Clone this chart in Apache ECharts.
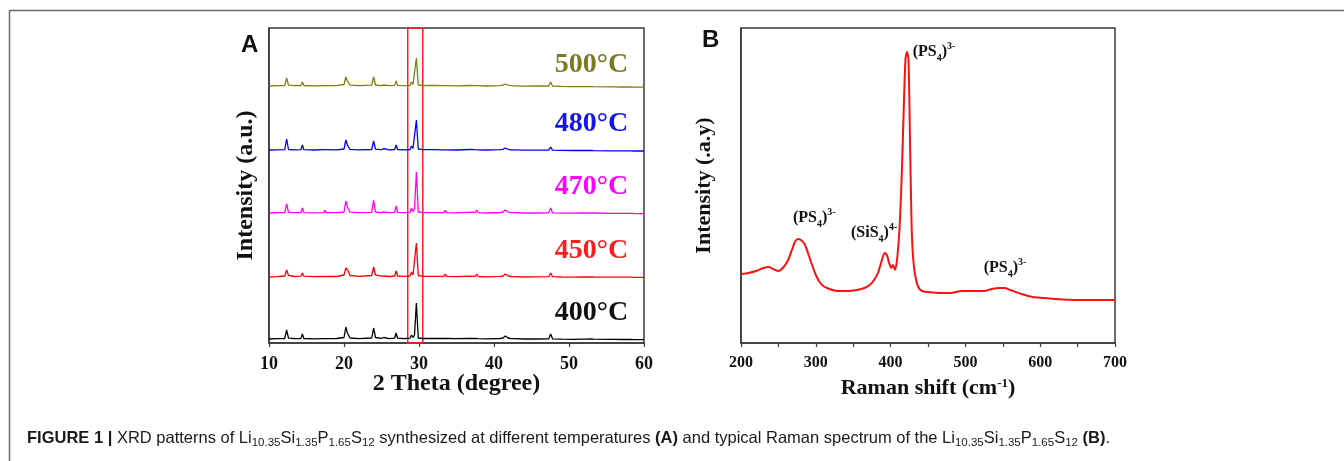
<!DOCTYPE html>
<html>
<head>
<meta charset="utf-8">
<script src="https://cdn.jsdelivr.net/npm/echarts@6/dist/echarts.min.js"></script>
<style>
  html, body { margin: 0; padding: 0; background: #fff; }
  #chart { width: 1344px; height: 461px; }
</style>
</head>
<body>
<div id="chart"></div>
<script>
// ---- Panel A: XRD patterns (2θ in degrees, intensity above each trace's own baseline, a.u.) ----
const THETA = [10.0, 11.0, 12.1, 12.35, 12.6, 13.5, 14.25, 14.45, 14.65, 16.0, 17.3, 17.45, 17.6, 19.0, 20.0, 20.25,
  20.45, 20.55, 20.8, 22.0, 23.7, 23.95, 24.2, 25.0, 25.3, 26.0, 26.75, 26.95, 27.15, 28.0, 28.8, 29.0, 29.2, 29.4,
  29.65, 29.9, 30.5, 31.5, 31.7, 31.9, 33.3, 33.5, 33.7, 35.0, 36.8, 37.5, 37.7, 37.9, 39.0, 40.8, 41.0, 41.2, 41.5,
  41.7, 41.9, 42.3, 42.5, 42.7, 44.0, 45.5, 47.3, 47.55, 47.8, 49.0, 50.5, 51.8, 52.0, 52.2, 52.9, 53.1, 53.3, 55.4,
  55.6, 55.8, 57.1, 57.3, 57.5, 58.2, 58.45, 58.7, 60.0];

const XRD_400 = [0, 0.3, 0.5, 9, 0.8, 0.3, 0.5, 5, 0.5, 0.2, 0.4, 2, 0.4, 0.5, 1.5, 12, 6, 5, 1, 0.4, 1, 11, 1.5, 0.6,
  1.5, 0.4, 0.8, 6, 0.8, 0.4, 0.8, 4, 1.5, 4, 36, 1, 0.5, 0.5, 2, 0.5, 0.5, 2.5, 0.5, 0.3, 0.6, 0.5, 2.5, 0.4, 0.2,
  0.5, 2, 1, 3, 5, 1, 0.4, 1.2, 0.3, 0, 0, 0.2, 5, 0.2, -0.2, -0.3, -0.2, 1.2, -0.2, 0, 1.2, -0.2, -0.4, 0.6, -0.4,
  -0.5, 0.6, -0.5, -0.5, 0.8, -0.6, -0.6];
const XRD_450 = [0, 0.4, 1, 7, 1.5, 0.5, 0.8, 4, 0.8, 0.3, 0.5, 2, 0.5, 0.5, 2, 9, 7, 6, 1.5, 0.6, 1.5, 10, 2, 0.8,
  1, 0.5, 1, 6, 1, 0.6, 1, 5, 2, 4, 34, 1.5, 0.6, 0.6, 2.5, 0.6, 0.6, 3, 0.6, 0.3, 0.8, 0.6, 3, 0.5, 0.2, 0.6, 2, 1,
  3, 4, 1, 0.5, 1.2, 0.4, 0, 0.2, 0.3, 4, 0.3, 0, -0.1, 0, 1.5, 0, 0.2, 1.5, 0, -0.2, 1, -0.2, -0.2, 1, -0.2, -0.2,
  1.2, -0.3, -0.4];
const XRD_470 = [0, 0.3, 0.4, 9, 0.6, 0.3, 0.4, 5, 0.4, 0.2, 0.3, 3, 0.3, 0.3, 1, 12, 6, 5, 0.8, 0.3, 0.6, 13, 1, 0.4,
  1, 0.3, 0.6, 7, 0.6, 0.3, 0.6, 5, 1.5, 4, 41, 1, 0.4, 0.4, 2, 0.4, 0.4, 2.5, 0.4, 0.2, 0.8, 0.5, 3, 0.4, 0, 0.5, 2,
  1, 3, 5, 0.8, 0.4, 1.2, 0.3, 0, 0, 0.2, 5, 0.2, -0.2, -0.2, 0, 1.5, 0, 0, 1.5, 0, -0.3, 0.8, -0.3, -0.4, 0.8, -0.4,
  -0.4, 1, -0.5, -0.6];
const XRD_480 = [0, 0.2, 0.3, 11, 0.5, 0.2, 0.3, 5, 0.3, 0, 0.3, 1.5, 0.3, 0.2, 1, 10, 5, 4, 0.6, 0.2, 0.5, 9, 0.8,
  0.3, 1.5, 0.2, 0.5, 5, 0.5, 0.2, 0.5, 4, 1.5, 3, 30, 1, 0.3, 0.3, 2, 0.3, 0.2, 2, 0.2, 0, 0.5, 0.3, 2, 0.2, 0, 0.3,
  1.5, 0.6, 2, 3, 0.6, 0.2, 1, 0.2, -0.2, -0.2, -0.2, 3, -0.2, -0.4, -0.5, -0.5, 0.5, -0.5, -0.5, 0.5, -0.6, -0.8, 0,
  -0.8, -0.9, 0, -0.9, -0.9, 0, -1, -1];
const XRD_500 = [0, 0.3, 0.5, 8, 0.8, 0.3, 0.5, 4, 0.5, 0.2, 0.4, 1.5, 0.4, 0.3, 1.5, 9, 5, 4, 0.8, 0.3, 0.8, 9, 1,
  0.4, 1, 0.3, 0.6, 5, 0.6, 0.3, 0.6, 4, 1.5, 3, 28, 1, 0.4, 0.5, 2, 0.5, 0.4, 2, 0.4, 0.2, 0.5, 0.4, 2, 0.3, 0, 0.4,
  1.5, 0.8, 2, 4, 0.8, 0.3, 1, 0.2, -0.2, 0, 0, 4, 0, -0.4, -0.6, -0.6, 0.5, -0.6, -0.6, 0.5, -0.7, -0.9, 0, -0.9, -1,
  0, -1, -1, 0.2, -1.1, -1.2];

const TEMP_LABELS = ['400°C', '450°C', '470°C', '480°C', '500°C'];
const XRD_SERIES = [XRD_400, XRD_450, XRD_470, XRD_480, XRD_500];
const XRD_OFFSETS = [4, 66, 130, 193, 257];      // vertical stacking of the patterns
const XRD_TICKS = [10, 20, 30, 40, 50, 60];
const MAIN_PEAK_WINDOW = [28.5, 30.5];           // highlighted 2θ range around the strongest reflection

// ---- Panel B: Raman spectrum (shift in cm^-1, intensity a.u.) ----
const RAMAN_SHIFT = [200, 210, 220, 230, 237, 243, 250, 257, 263, 268, 272, 276, 280, 285, 290, 295, 300, 305, 310,
  318, 330, 343, 355, 365, 372, 378, 383, 388, 392, 395, 398, 401, 403, 406, 409, 412, 415, 418, 420, 422, 424, 426,
  428, 430, 433, 437, 442, 450, 467, 480, 495, 510, 525, 535, 545, 552, 560, 575, 590, 605, 620, 650, 680, 700];
const RAMAN_INT = [69, 70, 72, 75, 76, 74, 72, 76, 83, 93, 101, 104, 103, 99, 89, 78, 68, 61, 57, 54, 52, 52, 53, 55,
  58, 63, 70, 82, 90, 88, 80, 75, 78, 73, 86, 115, 170, 245, 285, 291, 282, 200, 120, 86, 67, 56, 52, 51, 50, 50, 52,
  52, 52, 54, 55, 55, 53, 49, 46, 45, 44, 43, 43, 43];
const RAMAN_TICKS = [200, 300, 400, 500, 600, 700];
// band assignments: [ion, subscript, charge]
const RAMAN_BANDS = [['PS', '4', '3-'], ['SiS', '4', '4-'], ['PS', '4', '3-'], ['PS', '4', '3-']];

const COLORS = ['#000000', '#ff0000', '#ff00ff', '#0000ff', '#7f7f10'];
const LABEL_COLORS = ['#111111', '#ff1c1c', '#ff00ff', '#1414f0', '#7b7b22'];

const SERIF = 'Liberation Serif';
const SANS = 'Liberation Sans';
const AXIS_COLOR = '#3a3a3a';

const chart = echarts.init(document.getElementById('chart'), null, { renderer: 'canvas' });

function xAxisBase(gridIndex, ticks, name, opts) {
  return {
    type: 'value', gridIndex, min: ticks[0], max: ticks[ticks.length - 1], interval: ticks[1] - ticks[0],
    axisLine: { show: true, onZero: false, lineStyle: { color: AXIS_COLOR, width: 1.5 } },
    axisTick: { show: true, inside: false, length: 4, lineStyle: { color: AXIS_COLOR, width: 1.2 } },
    axisLabel: { fontFamily: SERIF, fontWeight: 'bold', fontSize: opts.tickSize, color: '#111', margin: 12 },
    splitLine: { show: false },
    name, nameLocation: 'middle', nameGap: opts.nameGap, nameMoveOverlap: false,
    nameTextStyle: { fontFamily: SERIF, fontWeight: 'bold', fontSize: opts.nameSize, color: '#111', rich: opts.rich }
  };
}
function yAxisBase(gridIndex, name, gap, size) {
  return {
    type: 'value', gridIndex, min: 0, max: 315,
    axisLine: { show: true, lineStyle: { color: AXIS_COLOR, width: 1.5 } },
    axisTick: { show: false }, axisLabel: { show: false }, splitLine: { show: false },
    name, nameLocation: 'middle', nameGap: gap, nameRotate: 90, nameMoveOverlap: false,
    nameTextStyle: { fontFamily: SERIF, fontWeight: 'bold', fontSize: size, color: '#111' }
  };
}

const xA = xAxisBase(0, XRD_TICKS, '2 Theta (degree)', { tickSize: 18, nameSize: 24, nameGap: 29 });
const xB = xAxisBase(1, RAMAN_TICKS, 'Raman shift (cm{s|-1})', {
  tickSize: 16, nameSize: 22, nameGap: 34,
  rich: { s: { fontFamily: SERIF, fontWeight: 'bold', fontSize: 13, color: '#111', verticalAlign: 'top', lineHeight: 12 } }
});
xB.minorTick = { show: true, splitNumber: 2, length: 4, lineStyle: { color: AXIS_COLOR, width: 1.2 } };

// XRD traces, each lifted by its stacking offset, labelled with its synthesis temperature
const xrdSeries = XRD_SERIES.map((vals, k) => ({
  type: 'line', xAxisIndex: 0, yAxisIndex: 0, name: TEMP_LABELS[k],
  symbol: 'none', silent: true, animation: false,
  lineStyle: { color: COLORS[k], width: 1.3 },
  data: THETA.map((t, i) => [t, vals[i] + XRD_OFFSETS[k]]),
  markPoint: {
    symbolSize: 0, silent: true, animation: false,
    data: [{ coord: [57.9, XRD_OFFSETS[k] + (k === 4 ? 21 : 26)] }],
    label: {
      show: true, position: [0, 0], align: 'right', verticalAlign: 'middle',
      formatter: TEMP_LABELS[k],
      fontFamily: SERIF, fontWeight: 'bold', fontSize: 28, color: LABEL_COLORS[k]
    }
  }
}));
// red frame around the strongest reflection
xrdSeries[0].markArea = {
  silent: true, animation: false,
  itemStyle: { color: 'rgba(0,0,0,0)', borderColor: '#ff2020', borderWidth: 1.5 },
  data: [[{ xAxis: MAIN_PEAK_WINDOW[0], yAxis: 0 }, { xAxis: MAIN_PEAK_WINDOW[1], yAxis: 315 }]]
};

const bandRich = {
  t: { fontFamily: SERIF, fontWeight: 'bold', fontSize: 16, color: '#111', lineHeight: 22 },
  sub: { fontFamily: SERIF, fontWeight: 'bold', fontSize: 10, color: '#111', lineHeight: 11, verticalAlign: 'bottom' },
  sup: { fontFamily: SERIF, fontWeight: 'bold', fontSize: 10, color: '#111', lineHeight: 11, verticalAlign: 'top' }
};
const bandAnchors = [[298, 125], [378, 110], [458, 291], [553, 75]];

const ramanSeries = {
  type: 'line', xAxisIndex: 1, yAxisIndex: 1, name: 'Raman',
  symbol: 'none', silent: true, animation: false, smooth: 0.25,
  lineStyle: { color: '#ff1010', width: 2 },
  data: RAMAN_SHIFT.map((s, i) => [s, RAMAN_INT[i]]),
  markPoint: {
    symbolSize: 0, silent: true, animation: false,
    data: RAMAN_BANDS.map((b, i) => ({
      coord: bandAnchors[i],
      label: {
        show: true, position: [0, 0], align: 'center', verticalAlign: 'middle',
        formatter: '{t|(' + b[0] + '}{sub|' + b[1] + '}{t|)}{sup|' + b[2] + '}',
        rich: bandRich
      }
    }))
  }
};

const capMain = { fontFamily: SANS, fontSize: 16.5, fill: '#1a1a1a', lineHeight: 20 };
const capRich = {
  b: Object.assign({}, capMain, { fontWeight: 'bold' }),
  n: capMain,
  s: { fontFamily: SANS, fontSize: 11.5, fill: '#1a1a1a', lineHeight: 10, verticalAlign: 'bottom' }
};
const formula = '{n|Li}{s|10.35}{n|Si}{s|1.35}{n|P}{s|1.65}{n|S}{s|12}';
const captionText = '{b|FIGURE 1 |}{n| XRD patterns of }' + formula +
  '{n| synthesized at different temperatures }{b|(A)}{n| and typical Raman spectrum of the }' + formula +
  '{n| }{b|(B)}{n|.}';

chart.setOption({
  backgroundColor: '#ffffff',
  animation: false,
  grid: [
    { left: 269, top: 28, width: 375, height: 315, show: true, borderColor: AXIS_COLOR, borderWidth: 1.5 },
    { left: 741, top: 28, width: 374, height: 315, show: true, borderColor: AXIS_COLOR, borderWidth: 1.5 }
  ],
  xAxis: [xA, xB],
  yAxis: [yAxisBase(0, 'Intensity (a.u.)', 11, 24), yAxisBase(1, 'Intensity (.a.y)', 26, 22)],
  series: [...xrdSeries, ramanSeries],
  graphic: [
    { type: 'line', silent: true, shape: { x1: 9, y1: 10.5, x2: 1344, y2: 10.5 },
      style: { stroke: '#6a6a6a', lineWidth: 1.5 } },
    { type: 'line', silent: true, shape: { x1: 9.5, y1: 10, x2: 9.5, y2: 461 },
      style: { stroke: '#6a6a6a', lineWidth: 1.5 } },
    { type: 'text', left: 241, top: 33, silent: true,
      style: { text: 'A', fontFamily: SANS, fontWeight: 'bold', fontSize: 24, fill: '#111' } },
    { type: 'text', left: 702, top: 28, silent: true,
      style: { text: 'B', fontFamily: SANS, fontWeight: 'bold', fontSize: 24, fill: '#111' } },
    { type: 'text', left: 27, top: 430, silent: true,
      style: { text: captionText, rich: capRich, fontFamily: SANS, fontSize: 16.5, fill: '#1a1a1a' } }
  ]
});
</script>
</body>
</html>
